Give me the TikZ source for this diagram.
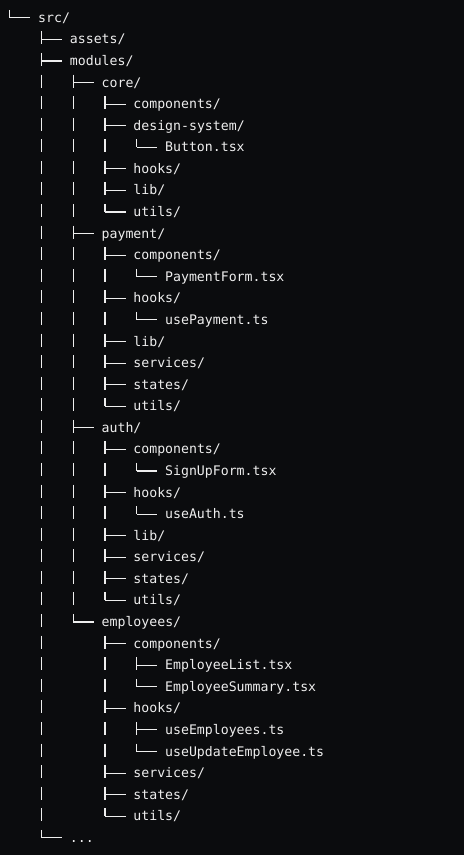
\documentclass[tikz,border=0pt]{standalone}
\usepackage{fontspec}
\newfontfamily\treefont{DejaVu Sans Mono}
\definecolor{bgc}{HTML}{0B0C0E}
\definecolor{fgc}{HTML}{EEEEEE}
\begin{document}
\begin{tikzpicture}[x=1pt,y=-1pt,
  entry/.style={anchor=west, inner sep=0pt, text height=9pt, text depth=0pt,
    text=fgc, font=\treefont\fontsize{13.2}{15}\selectfont},
  hline/.style={draw=fgc, line width=1.1pt},
  vline/.style={draw=fgc, line width=1.1pt, dash pattern=on 13pt off 8.58pt}]
\fill[bgc] (0,0) rectangle (464,855);
\useasboundingbox (0,0) rectangle (464,855);
\foreach \r/\L/\t in {
  0/0/{src/},
  1/1/{assets/},
  2/1/{modules/},
  3/2/{core/},
  4/3/{components/},
  5/3/{design-system/},
  6/4/{Button.tsx},
  7/3/{hooks/},
  8/3/{lib/},
  9/3/{utils/},
  10/2/{payment/},
  11/3/{components/},
  12/4/{PaymentForm.tsx},
  13/3/{hooks/},
  14/4/{usePayment.ts},
  15/3/{lib/},
  16/3/{services/},
  17/3/{states/},
  18/3/{utils/},
  19/2/{auth/},
  20/3/{components/},
  21/4/{SignUpForm.tsx},
  22/3/{hooks/},
  23/4/{useAuth.ts},
  24/3/{lib/},
  25/3/{services/},
  26/3/{states/},
  27/3/{utils/},
  28/2/{employees/},
  29/3/{components/},
  30/4/{EmployeeList.tsx},
  31/4/{EmployeeSummary.tsx},
  32/3/{hooks/},
  33/4/{useEmployees.ts},
  34/4/{useUpdateEmployee.ts},
  35/3/{services/},
  36/3/{states/},
  37/3/{utils/}}
  \node[entry] (n\r) at ({38+31.75*\L},{17.8+21.58*\r}) {\t};
\node[entry] (n38) at ({38+31.75},{17.8+21.58*38}) {...};
% root connector
\coordinate (top) at (9.5,9.8);
\draw[hline] (top) -- (top |- n0.west) -- ([xshift=-8pt]n0.west);
% vertical connectors (parent -> last child)
\foreach \p/\l in {0/38, 2/28, 3/9, 5/6, 10/18, 11/12, 13/14, 19/27, 20/21, 22/23, 28/37, 29/31, 32/34}
  \draw[vline] ([xshift=3.5pt,yshift=-13.58pt]n\p.west) -- ([xshift=-28.25pt]n\l.west);
% horizontal branches
\foreach \c in {1,...,38}
  \draw[hline] ([xshift=-28.25pt]n\c.west) -- ([xshift=-7.6pt]n\c.west);
\end{tikzpicture}
\end{document}
